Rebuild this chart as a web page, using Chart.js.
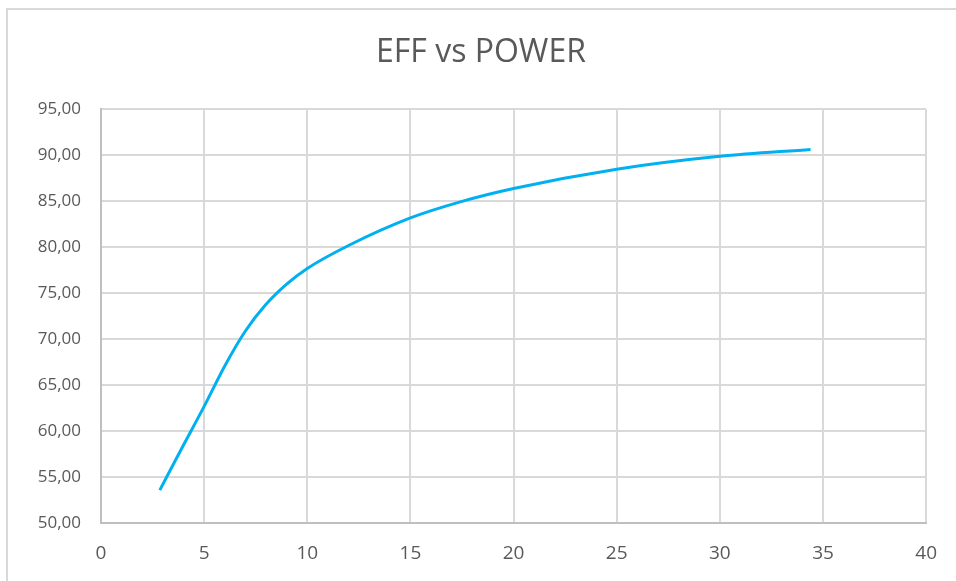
<!DOCTYPE html>
<html>
<head>
<meta charset="utf-8">
<script src="https://cdn.jsdelivr.net/npm/chart.js@4.4.1/dist/chart.umd.min.js"></script>
<style>
  html, body { margin: 0; padding: 0; background: #fff; }
  #frame {
    position: absolute; left: 6px; top: 8px; right: 0; bottom: 0;
    border-top: 2px solid #D9D9D9; border-left: 2px solid #D9D9D9;
  }
  #wrap { position: absolute; left: 0; top: 0; width: 956px; height: 581px; }
</style>
</head>
<body>
<div id="frame"></div>
<div id="wrap"><canvas id="EffChart"></canvas></div>
<script>
// power (x) and efficiency (y)
const power = [2.85, 4, 5, 6, 7, 8, 9, 10, 12, 15, 17.5, 20, 25, 30, 34.4]
const eff = [53.6, 58.5, 62.7, 67.1, 70.9, 73.8, 76.0, 77.7, 80.2, 83.2, 85.0, 86.4, 88.5, 89.9, 90.65]
const xTicks = [0, 5, 10, 15, 20, 25, 30, 35, 40]
const yTicks = [50, 55, 60, 65, 70, 75, 80, 85, 90, 95]

const FONT = "'Open Sans', sans-serif"
const TEXT = '#595959'
const GRID = '#D9D9D9'

const points = power.map((p, i) => ({ x: p, y: eff[i] }))

new Chart(document.getElementById('EffChart'), {
    type: 'scatter',
    data: {
        datasets: [{
            label: 'EFF',
            data: points,
            showLine: true,
            borderColor: '#00B0F0',
            borderWidth: 3,
            pointRadius: 0,
            cubicInterpolationMode: 'monotone',
        }]
    },
    options: {
        responsive: true,
        maintainAspectRatio: false,
        animation: false,
        layout: { padding: { left: 34, right: 28, top: 0, bottom: -3 } },
        plugins: {
            legend: { display: false },
            tooltip: { enabled: false },
            title: {
                display: true,
                text: 'EFF vs POWER',
                color: TEXT,
                font: { family: FONT, size: 32, weight: 'normal' },
                padding: { top: 34, bottom: 37 },
            },
        },
        scales: {
            x: {
                type: 'linear',
                min: xTicks[0],
                max: xTicks[xTicks.length - 1],
                afterBuildTicks: (s) => { s.ticks = xTicks.map(v => ({ value: v })) },
                grid: { color: GRID, lineWidth: 2, drawTicks: false },
                border: { color: '#BFBFBF', width: 2 },
                ticks: { color: TEXT, font: { family: FONT, size: 19 }, padding: 19, maxRotation: 0 },
            },
            y: {
                type: 'linear',
                min: yTicks[0],
                max: yTicks[yTicks.length - 1],
                afterBuildTicks: (s) => { s.ticks = yTicks.map(v => ({ value: v })) },
                afterFit: (s) => { s.width = 67 },
                grid: { color: GRID, lineWidth: 2, drawTicks: false },
                border: { color: '#BFBFBF', width: 2 },
                ticks: {
                    color: TEXT, font: { family: FONT, size: 17 }, padding: 20,
                    callback: (v) => v.toFixed(2).replace('.', ','),
                },
            },
        },
    },
})
</script>
</body>
</html>
